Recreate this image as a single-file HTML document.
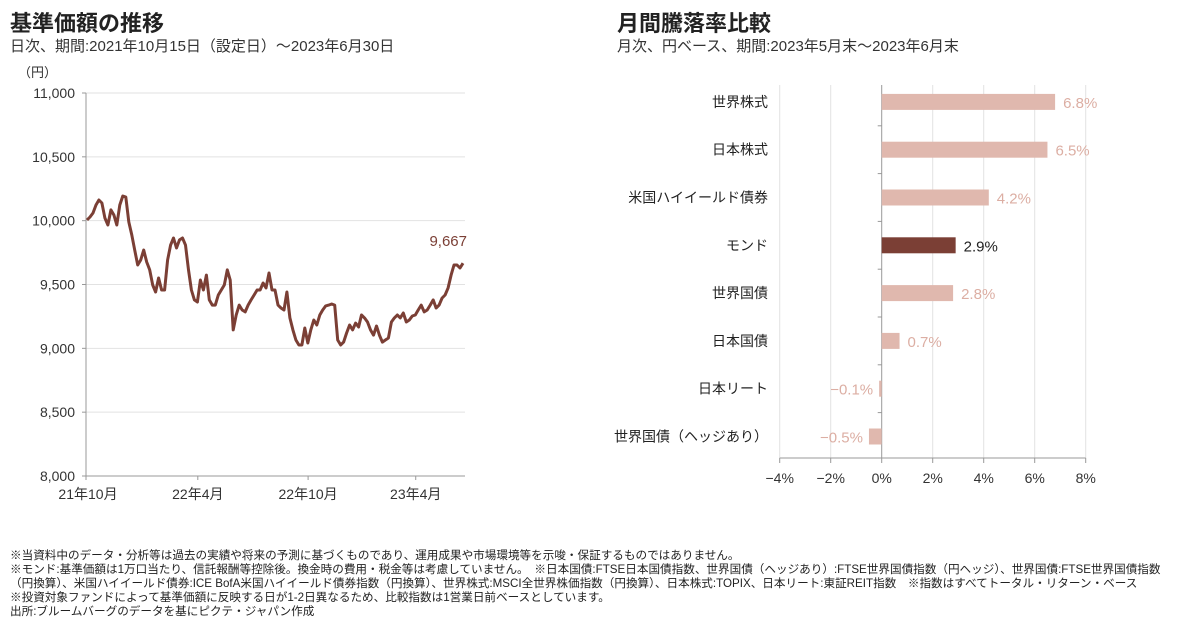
<!DOCTYPE html>
<html><head><meta charset="utf-8">
<style>
body{margin:0;background:#fff;font-family:"Liberation Sans","Noto Sans CJK JP",sans-serif;}
#wrap{position:relative;width:1200px;height:628px;overflow:hidden;}
.t{position:absolute;white-space:nowrap;color:#222;}
.h1{font-size:22px;font-weight:bold;}
.sub{font-size:15px;color:#333;}
.note{font-size:11.6px;color:#222;line-height:14px;left:10px;}
svg text{font-family:"Liberation Sans","Noto Sans CJK JP",sans-serif;}
</style></head><body>
<div id="wrap">
<div class="t h1" style="left:10px;top:6px">基準価額の推移</div>
<div class="t sub" style="left:10px;top:35px">日次、期間:2021年10月15日（設定日）～2023年6月30日</div>
<div class="t h1" style="left:617px;top:6px">月間騰落率比較</div>
<div class="t sub" style="left:617px;top:35px">月次、円ベース、期間:2023年5月末～2023年6月末</div>
<svg id="lc" width="1200" height="628" style="position:absolute;left:0;top:0"></svg>
<div class="t note" style="top:549px">※当資料中のデータ・分析等は過去の実績や将来の予測に基づくものであり、運用成果や市場環境等を示唆・保証するものではありません。<br>※モンド:基準価額は1万口当たり、信託報酬等控除後。換金時の費用・税金等は考慮していません。　※日本国債:FTSE日本国債指数、世界国債（ヘッジあり）:FTSE世界国債指数（円ヘッジ）、世界国債:FTSE世界国債指数<br>（円換算）、米国ハイイールド債券:ICE BofA米国ハイイールド債券指数（円換算）、世界株式:MSCI全世界株価指数（円換算）、日本株式:TOPIX、日本リート:東証REIT指数　※指数はすべてトータル・リターン・ベース<br>※投資対象ファンドによって基準価額に反映する日が1-2日異なるため、比較指数は1営業日前ベースとしています。<br>出所:ブルームバーグのデータを基にピクテ・ジャパン作成</div>
</div>
<script>
const navValues=[10005,10029,10060,10123,10162,10138,10021,9966,10084,10044,9966,10123,10193,10185,9990,9888,9770,9653,9692,9770,9676,9614,9496,9441,9551,9457,9457,9692,9809,9864,9786,9849,9864,9809,9614,9457,9379,9363,9535,9457,9574,9379,9339,9339,9418,9457,9496,9614,9535,9144,9261,9339,9300,9285,9339,9379,9418,9457,9457,9512,9473,9590,9457,9457,9339,9316,9300,9441,9238,9144,9065,9026,9026,9159,9042,9144,9222,9183,9261,9300,9332,9339,9347,9339,9065,9026,9049,9120,9183,9144,9198,9167,9261,9238,9206,9144,9104,9175,9104,9049,9065,9081,9206,9238,9261,9238,9277,9206,9222,9253,9261,9300,9339,9285,9300,9339,9379,9316,9339,9394,9418,9473,9574,9653,9653,9629,9667];
const yTicks=[8000,8500,9000,9500,10000,10500,11000];
const yTickLabels=["8,000","8,500","9,000","9,500","10,000","10,500","11,000"];
const xTickLabels=["21年10月","22年4月","22年10月","23年4月"];
const xTickFrac=[0.0,0.295,0.586,0.87];
const categories=["世界株式","日本株式","米国ハイイールド債券","モンド","世界国債","日本国債","日本リート","世界国債（ヘッジあり）"];
const returns=[6.8,6.5,4.2,2.9,2.8,0.7,-0.1,-0.5];
const highlight=[false,false,false,true,false,false,false,false];
const pctTicks=[-4,-2,0,2,4,6,8];

const svg=document.getElementById('lc');const NS='http://www.w3.org/2000/svg';
function mk(tag,attrs,txt){const e=document.createElementNS(NS,tag);for(const k in attrs)e.setAttribute(k,attrs[k]);if(txt!==undefined)e.textContent=txt;svg.appendChild(e);return e;}
const X0=86,X1=465,Y0=476,Y1=93;
const ys=v=>Y0-(v-8000)/3000*(Y0-Y1);
const xs=i=>X0+1+i/(navValues.length-1)*(X1-X0-3);
yTicks.forEach((v,i)=>{
 if(v>8000){const g=mk('line',{x1:X0,x2:X1,y1:ys(v),y2:ys(v),stroke:'#e2e2e2','stroke-width':1});
 
 }
 const t=mk('text',{x:75,y:ys(v)+5,'text-anchor':'end','font-size':14,fill:'#333'},yTickLabels[i]);
 
 
 mk('line',{x1:X0-4,x2:X0,y1:ys(v),y2:ys(v),stroke:'#999'});
});
mk('line',{x1:X0,x2:X0,y1:Y1,y2:Y0,stroke:'#999'});
mk('line',{x1:X0,x2:X1,y1:Y0,y2:Y0,stroke:'#999'});
const unit=mk('text',{x:18,y:77,'font-size':13,fill:'#333'},'（円）');


xTickLabels.forEach((l,i)=>{const x=X0+xTickFrac[i]*(X1-X0);
 mk('line',{x1:x,x2:x,y1:Y0,y2:Y0+4,stroke:'#999'});
 const t=mk('text',{x:x+(i==0?2:0),y:Y0+23,'text-anchor':'middle','font-size':14,fill:'#333'},l);
 
 });
let d='';navValues.forEach((v,i)=>{d+=(i?'L':'M')+xs(i).toFixed(1)+','+ys(v).toFixed(1);});
const ln=mk('path',{d:d,fill:'none',stroke:'#7b3f35','stroke-width':3,'stroke-linejoin':'round'});


const last=navValues[navValues.length-1];
const lb=mk('text',{x:467,y:ys(last)-17,'text-anchor':'end','font-size':15,fill:'#7b3f35'},last.toLocaleString('en-US'));


const Z=881.7,PX=25.5,RT=78,RH=47.8,AY=458;
const px=p=>Z+p*PX;
pctTicks.forEach(p=>{
 const g=mk('line',{x1:px(p),x2:px(p),y1:85,y2:AY,stroke:p==0?'#999':'#e2e2e2'});
 
 
 mk('line',{x1:px(p),x2:px(p),y1:AY,y2:AY+5,stroke:'#999'});
 const t=mk('text',{x:px(p),y:AY+25,'text-anchor':'middle','font-size':14,fill:'#333'},(p<0?'−':'')+Math.abs(p)+'%');
 
 
});
mk('line',{x1:px(-4),x2:px(8),y1:AY,y2:AY,stroke:'#999'});
categories.forEach((c,i)=>{
 const cy=RT+RH*(i+0.5);
 if(i>0)mk('line',{x1:Z-4,x2:Z,y1:RT+RH*i,y2:RT+RH*i,stroke:'#999'});
 const t=mk('text',{x:768,y:cy+5,'text-anchor':'end','font-size':14,fill:'#222'},c);
 
 
 const v=returns[i];const col=highlight[i]?'#7b3f35':'#e0b8ae';
 const b=mk('rect',{x:Math.min(px(0),px(v)),y:cy-8,width:Math.abs(v)*PX,height:16,fill:col});
 
 
 const txt=(v<0?'−':'')+Math.abs(v).toFixed(1)+'%';
 const vl=mk('text',{x:v>=0?px(v)+8:px(v)-6,y:cy+6,'text-anchor':v>=0?'start':'end','font-size':15,fill:highlight[i]?'#222':'#dcaea3'},txt);
 
 
});
</script>
</body></html>
